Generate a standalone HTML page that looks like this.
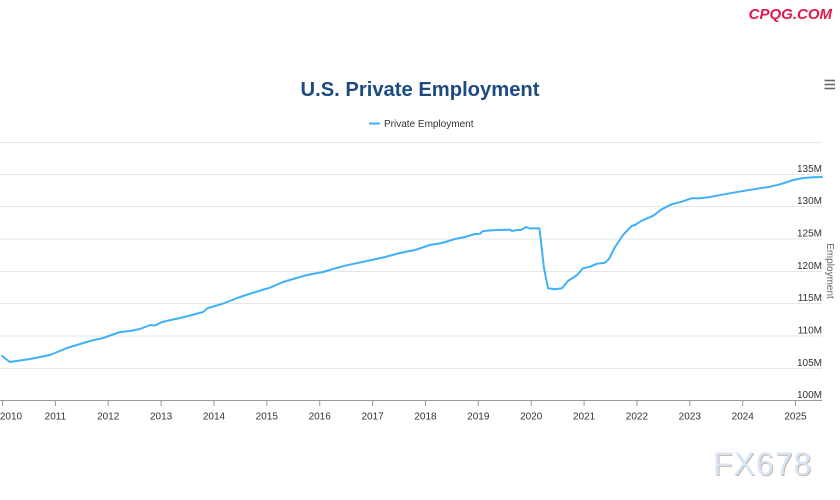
<!DOCTYPE html>
<html>
<head>
<meta charset="utf-8">
<style>
html,body{margin:0;padding:0;background:#fff;}
body{width:840px;height:500px;overflow:hidden;position:relative;font-family:"Liberation Sans",sans-serif;}
svg{position:absolute;left:0;top:0;}
</style>
</head>
<body>
<svg width="840" height="500" viewBox="0 0 840 500" xmlns="http://www.w3.org/2000/svg">
  <rect width="840" height="500" fill="#fff"/>
  <!-- watermark top -->
  <text x="832" y="19" text-anchor="end" font-family="Liberation Sans, sans-serif" font-size="15" font-weight="bold" font-style="italic" fill="#e3174a">CPQG.COM</text>

  <!-- title -->
  <text x="420" y="96" text-anchor="middle" font-family="Liberation Sans, sans-serif" font-size="20.2" font-weight="bold" fill="#1c4b82">U.S. Private Employment</text>

  <!-- hamburger -->
  <g stroke="#666" stroke-width="1.6">
    <line x1="824.5" y1="80.5" x2="835" y2="80.5"/>
    <line x1="824.5" y1="84.5" x2="835" y2="84.5"/>
    <line x1="824.5" y1="88.5" x2="835" y2="88.5"/>
  </g>

  <!-- legend -->
  <line x1="369" y1="123.5" x2="380" y2="123.5" stroke="#41b0f5" stroke-width="2"/>
  <text x="384" y="127" font-family="Liberation Sans, sans-serif" font-size="10" fill="#333">Private Employment</text>

  <!-- gridlines -->
  <g stroke="#e6e6e6" stroke-width="1">
    <line x1="0" y1="142.5" x2="822" y2="142.5"/>
    <line x1="0" y1="174.5" x2="822" y2="174.5"/>
    <line x1="0" y1="206.5" x2="822" y2="206.5"/>
    <line x1="0" y1="239" x2="822" y2="239"/>
    <line x1="0" y1="271.5" x2="822" y2="271.5"/>
    <line x1="0" y1="303.5" x2="822" y2="303.5"/>
    <line x1="0" y1="336" x2="822" y2="336"/>
    <line x1="0" y1="368.5" x2="822" y2="368.5"/>
  </g>

  <!-- y labels -->
  <g font-family="Liberation Sans, sans-serif" font-size="10" fill="#333" text-anchor="end">
    <text x="822" y="172">135M</text>
    <text x="822" y="204">130M</text>
    <text x="822" y="236.5">125M</text>
    <text x="822" y="269">120M</text>
    <text x="822" y="301">115M</text>
    <text x="822" y="333.5">110M</text>
    <text x="822" y="366">105M</text>
    <text x="822" y="398">100M</text>
  </g>

  <!-- y axis title -->
  <text transform="translate(827,271) rotate(90)" text-anchor="middle" font-family="Liberation Sans, sans-serif" font-size="10" fill="#666">Employment</text>

  <!-- x axis -->
  <line x1="0" y1="400.5" x2="822" y2="400.5" stroke="#999" stroke-width="1"/>
  <g stroke="#999" stroke-width="1">
    <line x1="2.5" y1="400.5" x2="2.5" y2="406"/>
    <line x1="55.4" y1="400.5" x2="55.4" y2="406"/>
    <line x1="108.2" y1="400.5" x2="108.2" y2="406"/>
    <line x1="161.1" y1="400.5" x2="161.1" y2="406"/>
    <line x1="214" y1="400.5" x2="214" y2="406"/>
    <line x1="266.8" y1="400.5" x2="266.8" y2="406"/>
    <line x1="319.7" y1="400.5" x2="319.7" y2="406"/>
    <line x1="372.6" y1="400.5" x2="372.6" y2="406"/>
    <line x1="425.5" y1="400.5" x2="425.5" y2="406"/>
    <line x1="478.3" y1="400.5" x2="478.3" y2="406"/>
    <line x1="531.2" y1="400.5" x2="531.2" y2="406"/>
    <line x1="584.1" y1="400.5" x2="584.1" y2="406"/>
    <line x1="636.9" y1="400.5" x2="636.9" y2="406"/>
    <line x1="689.8" y1="400.5" x2="689.8" y2="406"/>
    <line x1="742.7" y1="400.5" x2="742.7" y2="406"/>
    <line x1="795.5" y1="400.5" x2="795.5" y2="406"/>
  </g>
  <g font-family="Liberation Sans, sans-serif" font-size="10" fill="#333" text-anchor="middle">
    <text x="11" y="419.5">2010</text>
    <text x="55.4" y="419.5">2011</text>
    <text x="108.2" y="419.5">2012</text>
    <text x="161.1" y="419.5">2013</text>
    <text x="214" y="419.5">2014</text>
    <text x="266.8" y="419.5">2015</text>
    <text x="319.7" y="419.5">2016</text>
    <text x="372.6" y="419.5">2017</text>
    <text x="425.5" y="419.5">2018</text>
    <text x="478.3" y="419.5">2019</text>
    <text x="531.2" y="419.5">2020</text>
    <text x="584.1" y="419.5">2021</text>
    <text x="636.9" y="419.5">2022</text>
    <text x="689.8" y="419.5">2023</text>
    <text x="742.7" y="419.5">2024</text>
    <text x="795.5" y="419.5">2025</text>
  </g>

  <!-- series -->
  <polyline fill="none" stroke="#41b0f5" stroke-width="2" stroke-linejoin="round" stroke-linecap="round"
    points="2,356 10,362 30,359 50,355 67,348 90,341 103,338 120,332 130,331 140,329 150,325 155,325.5 162,322 180,318 192,315 203,312 208,308 222,304 240,297 262,290 270,287.7 283,282 300,277 307,275 323,272 333,269 345,265.7 367,261 385,257 400,253 415,250 430,245 442,243 455,239 465,237 475,234 480,233.7 483,231 497,230 510,229.7 512,231 517,230 521,230 526,227 530,228.5 536,228.3 539.5,228.5 544,268.3 548,288.3 555,289.3 562,288.3 568,281 577,275 583,268.3 590,266.7 597,263.7 605,262.7 609,259 615,247 623,235 631.7,226 635,225 641.7,220.7 653.3,215.7 661.7,209.3 671.7,204.3 681.7,201.7 691.7,198.3 700,198.3 708.3,197.3 716.7,195.7 733.3,192.7 753.3,189.3 770,186.7 780,184.3 793.3,180 803.3,178 813.3,177.3 822,177"/>

  <!-- watermark bottom -->
  <text x="713" y="475" font-family="Liberation Sans, sans-serif" font-size="32" letter-spacing="1" fill="#c9b6a4" transform="translate(1,1)">FX678</text>
  <text x="713" y="475" font-family="Liberation Sans, sans-serif" font-size="32" letter-spacing="1" fill="#d6e6f8">FX678</text>
</svg>
</body>
</html>
